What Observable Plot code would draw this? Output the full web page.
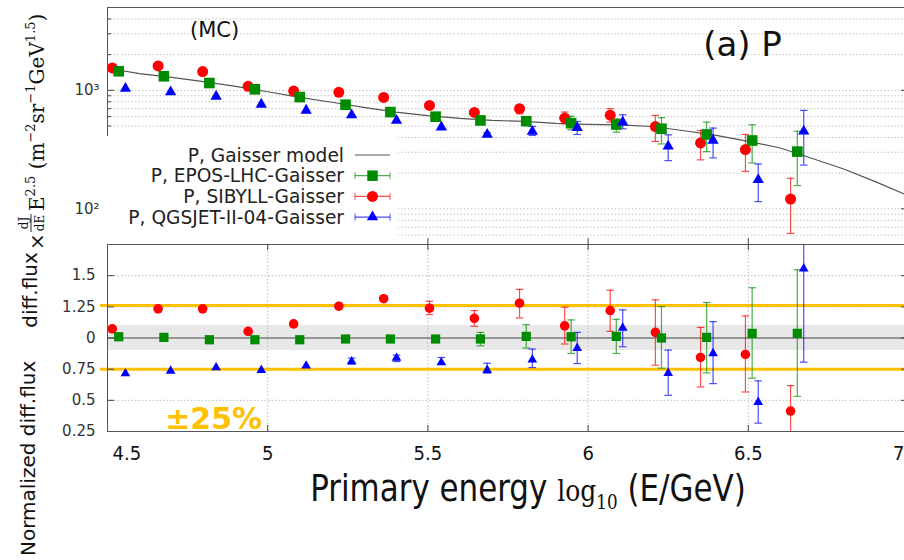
<!DOCTYPE html>
<html><head><meta charset="utf-8">
<script src="https://cdn.jsdelivr.net/npm/d3@7"></script>
<script src="https://cdn.jsdelivr.net/npm/@observablehq/plot@0.6"></script>
<style>
html,body{margin:0;padding:0;background:#fff;overflow:hidden;}
#wrap{position:relative;width:904px;height:560px;overflow:hidden;background:#fff;}
#wrap > *{position:absolute;left:0;}
[aria-label="x-axis tick label"] text{font-stretch:condensed;}
</style></head><body><div id="wrap"></div>
<script>
// ---------------- data ----------------
const xTicks = [4.5, 5, 5.5, 6, 6.5, 7];
const xTickLabels = ["4.5", "5", "5.5", "6", "6.5", "7"];
const xGrid = [5, 5.5, 6, 6.5];
const topMajor = [100, 1000];
const topMajorLabels = ["10²", "10³"];
const topMinor = [60, 70, 80, 90, 200, 300, 400, 500, 600, 700, 800, 900, 2000, 3000, 4000];
const botTicks = [1.5, 1.25, 1, 0.75, 0.5, 0.25];
const botTickLabels = ["1.5", "1.25", "0", "0.75", "0.5", "0.25"];
const botGrid = [1.5, 1.25, 0.75, 0.5];
const band = [0.9, 1.1];
const limits = [1.26, 0.75];

const legendLabels = ["P, Gaisser model", "P, EPOS-LHC-Gaisser", "P, SIBYLL-Gaisser", "P, QGSJET-II-04-Gaisser"];

const modelX = [4.5,4.6,4.7,4.8,4.9,5.0,5.1,5.2,5.3,5.4,5.5,5.6,5.7,5.8,5.9,6.0,6.1,6.2,6.3,6.4,6.5,6.6,6.7,6.8,6.9,7.0];
const modelY = [1536,1385,1286,1185,1079,973,872,793,718,655,612,580,558,546,527,517,511,495,456,416,371,326,266,216,168,129];

const xEPOS = [4.535,4.676,4.818,4.960,5.100,5.243,5.383,5.524,5.664,5.807,5.947,6.088,6.229,6.370,6.512,6.653];
const yEPOS = [1449,1314,1153,1020,877,756,655,599,557,549,528,515,474,424,377,304];
const loEPOS = [null,null,null,null,null,null,null,null,null,null,464,443,353,304,244,157];
const hiEPOS = [null,null,null,null,null,null,null,null,null,null,603,575,587,539,512,452];

const xSIB = [4.515,4.658,4.797,4.939,5.081,5.222,5.362,5.505,5.645,5.786,5.927,6.069,6.210,6.351,6.491,6.632];
const ySIB = [1545,1607,1439,1081,986,962,872,746,651,700,582,617,495,360,316,121];
const loSIB = [null,null,null,null,null,null,null,null,null,634,522,539,370,259,207,62];
const hiSIB = [null,null,null,null,null,null,null,null,null,746,655,700,614,458,424,181];

const xQGS = [4.556,4.697,4.839,4.980,5.120,5.262,5.402,5.542,5.685,5.826,5.966,6.108,6.250,6.390,6.531,6.673];
const yQGS = [1034,967,889,761,677,618,557,489,424,449,483,539,337,377,176,452];
const loQGS = [null,null,null,null,null,null,null,null,410,416,424,474,255,269,115,234];
const hiQGS = [null,null,null,null,null,null,null,null,440,495,546,622,421,480,239,677];

const rEPOS = [1.010,1.005,0.986,0.986,0.986,0.992,0.992,0.992,0.992,1.013,1.010,1.013,1.000,1.005,1.037,1.037];
const rloEPOS = [null,null,null,null,null,null,null,null,0.938,0.919,0.876,0.876,0.758,0.720,0.677,0.532];
const rhiEPOS = [null,null,null,null,null,null,null,null,1.045,1.107,1.145,1.150,1.252,1.285,1.403,1.548];

const rSIB = [1.073,1.234,1.234,1.053,1.113,1.255,1.315,1.239,1.158,1.279,1.097,1.220,1.045,0.844,0.868,0.414];
const rloSIB = [null,null,null,null,null,null,null,1.188,1.094,1.161,0.952,1.053,0.782,0.607,0.567,0.20];
const rhiSIB = [null,null,null,null,null,null,null,1.295,1.220,1.390,1.247,1.384,1.306,1.085,1.177,0.618];

const rQGS = [0.715,0.736,0.763,0.742,0.777,0.811,0.839,0.803,0.742,0.825,0.919,1.081,0.718,0.876,0.486,1.556];
const rloQGS = [null,null,null,null,null,0.790,0.811,0.790,0.718,0.763,0.795,0.930,0.540,0.634,0.317,0.806];
const rhiQGS = [null,null,null,null,null,0.839,0.863,0.844,0.798,0.911,1.045,1.226,0.903,1.131,0.656,1.90];

const topNotes = ["(MC)", "(a) P"];
const topNotesX = [4.834, 6.482];
const topNotesY = [3200, 2390];
const topNotesSize = [21, 34];
const botNoteText = ["±25%"];
const botNoteX = [4.68];
const botNoteY = [0.27];

// ---------------- helpers ----------------
const GREEN = "#008c00", RED = "#ff0000", BLUE = "#0000ff";
const SANS = "'DejaVu Sans', Verdana, sans-serif";
const COND = "'DejaVu Sans Condensed', 'Liberation Sans Narrow', 'DejaVu Sans', sans-serif";
const SERIF = "'DejaVu Serif', serif";
const W = 908, ML = 107;
const TOPH = 237, BOTH = 187;

const rows = (xs, ys, lo, hi) => xs.map((x, i) => ({x, y: ys[i], lo: lo[i], hi: hi[i]}));
const capSym = {draw(ctx, size) { const r = Math.sqrt(size / Math.PI); ctx.moveTo(-r, 0); ctx.lineTo(r, 0); }};

function errMarks(data, color) {
  const e = data.filter(d => d.lo != null);
  return [
    Plot.ruleX(e, {x: "x", y1: "lo", y2: "hi", stroke: color, strokeOpacity: 0.7, strokeWidth: 1.2, clip: true}),
    Plot.dot(e, {x: "x", y: "lo", symbol: capSym, r: 3.8, stroke: color, strokeOpacity: 0.7, strokeWidth: 1.2, clip: true}),
    Plot.dot(e, {x: "x", y: "hi", symbol: capSym, r: 3.8, stroke: color, strokeOpacity: 0.7, strokeWidth: 1.2, clip: true})
  ];
}

const tE = rows(xEPOS, yEPOS, loEPOS, hiEPOS);
const tS = rows(xSIB, ySIB, loSIB, hiSIB);
const tQ = rows(xQGS, yQGS, loQGS, hiQGS);
const bE = rows(xEPOS, rEPOS, rloEPOS, rhiEPOS);
const bS = rows(xSIB, rSIB, rloSIB, rhiSIB);
const bQ = rows(xQGS, rQGS, rloQGS, rhiQGS);
const model = modelX.map((x, i) => ({x, y: modelY[i]}));
const notes = topNotes.map((t, i) => ({t, x: topNotesX[i], y: topNotesY[i], s: topNotesSize[i]}));

const wrap = document.getElementById("wrap");
const xLab = {tickSize: 0, tickPadding: 14, fontSize: 20, fontFamily: COND, fill: "#111", label: null};

// ---------------- bottom panel ----------------
const botPlot = Plot.plot({
  width: W, height: 317, marginTop: 1, marginBottom: 129, marginLeft: ML, marginRight: 0,
  x: {domain: [4.5, 7], axis: null},
  y: {domain: [0.25, 1.75], axis: null},
  style: {background: "transparent", overflow: "visible"},
  marks: [
    Plot.rect([band], {y1: d => d[0], y2: d => d[1], fill: "#e8e8e8"}),
    Plot.ruleY(botGrid, {stroke: "#bdbdbd", strokeDasharray: "1.5,2"}),
    Plot.ruleX(xGrid, {stroke: "#bdbdbd", strokeDasharray: "1.5,2"}),
    Plot.ruleY([1], {stroke: "#444", strokeWidth: 1.2}),
    Plot.ruleY(limits, {stroke: "#FFC000", strokeWidth: 3, insetLeft: -7}),
    Plot.tickY(botTicks.slice(0, 5), {stroke: "#444", insetRight: W - ML - 7}),
    Plot.tickY(botTicks.slice(0, 5), {stroke: "#444", insetLeft: W - ML - 7}),
    Plot.tickX(xGrid, {stroke: "#444", insetTop: BOTH - 6}),
    Plot.tickX(xGrid, {stroke: "#444", insetBottom: BOTH - 6}),
    ...errMarks(bS, RED), ...errMarks(bE, GREEN), ...errMarks(bQ, BLUE),
    Plot.dot(bS, {x: "x", y: "y", symbol: "circle", r: 4.8, fill: RED, clip: true}),
    Plot.dot(bE, {x: "x", y: "y", symbol: "square", r: 5.2, fill: GREEN, clip: true}),
    Plot.dot(bQ, {x: "x", y: "y", symbol: "triangle", r: 3.6, fill: BLUE, clip: true}),
    Plot.text(botNoteText, {x: () => botNoteX[0], y: () => botNoteY[0], text: d => d, textAnchor: "start", lineAnchor: "bottom", fontSize: 30, fontWeight: "bold", fontFamily: SANS, fill: "#FFC000"}),
    Plot.axisY({ticks: botTicks, tickFormat: d => botTickLabels[botTicks.indexOf(d)], tickSize: 0, tickPadding: 12, fontSize: 15, fontFamily: SANS, fill: "#333", label: null}),
    Plot.axisX({...xLab, ticks: xTicks.slice(1, 5), tickFormat: d => xTickLabels[xTicks.indexOf(d)]}),
    Plot.axisX({...xLab, ticks: [xTicks[0]], tickFormat: d => xTickLabels[0], textAnchor: "start", dx: 5}),
    Plot.axisX({...xLab, ticks: [xTicks[5]], tickFormat: d => xTickLabels[5], textAnchor: "end", dx: -4}),
    Plot.frame({stroke: "#555"})
  ]
});
botPlot.style.top = "243px";
botPlot.style.maxWidth = "none";
wrap.appendChild(botPlot);

// ---------------- top panel ----------------
const topPlot = Plot.plot({
  width: W, height: 245, marginTop: 7, marginBottom: 1, marginLeft: ML, marginRight: 0,
  x: {domain: [4.5, 7], axis: null},
  y: {type: "log", domain: [50, 5000], axis: null},
  style: {background: "transparent", overflow: "visible"},
  marks: [
    Plot.ruleY([...topMinor, ...topMajor], {stroke: "#c4c4c4", strokeDasharray: "1.5,2"}),
    Plot.tickY(topMajor, {stroke: "#444", insetRight: W - ML - 7}),
    Plot.tickY(topMinor, {stroke: "#444", insetRight: W - ML - 4}),
    Plot.tickY(topMajor, {stroke: "#444", insetLeft: W - ML - 7}),
    Plot.tickY(topMinor, {stroke: "#444", insetLeft: W - ML - 4}),
    Plot.tickX(xGrid, {stroke: "#444", insetTop: TOPH - 6}),
    Plot.line(model, {x: "x", y: "y", stroke: "#555", strokeWidth: 1.2, clip: true}),
    ...errMarks(tS, RED), ...errMarks(tE, GREEN), ...errMarks(tQ, BLUE),
    Plot.dot(tS, {x: "x", y: "y", symbol: "circle", r: 5.5, fill: RED}),
    Plot.dot(tE, {x: "x", y: "y", symbol: "square", r: 6.0, fill: GREEN}),
    Plot.dot(tQ, {x: "x", y: "y", symbol: "triangle", r: 4.2, fill: BLUE}),
    Plot.text(notes, {x: "x", y: "y", text: "t", fontSize: "s", fontFamily: SANS, fill: "#111"}),
    Plot.axisY({ticks: topMajor, tickFormat: d => topMajorLabels[topMajor.indexOf(d)], tickSize: 0, tickPadding: 8, fontSize: 15, fontFamily: SANS, fill: "#333", label: null}),
    Plot.frame({stroke: "#555"})
  ]
});
topPlot.style.top = "0px";
topPlot.style.maxWidth = "none";
wrap.appendChild(topPlot);

// ---------------- legend ----------------
const legColors = ["#555", GREEN, RED, BLUE];
const legSymbols = [null, d3.symbolSquare, d3.symbolCircle, d3.symbolTriangle];
const legSizes = [0, 110, 95, 55];
const leg = d3.select(wrap).append("svg")
  .attr("width", 291).attr("height", 108)
  .style("top", "136px").style("left", "107px").style("background", "#fff");
legendLabels.forEach((lab, i) => {
  const y = 19 + i * 20.7;
  leg.append("text").attr("x", 237).attr("y", y).attr("dy", "0.35em")
    .attr("text-anchor", "end").attr("font-family", SANS).attr("font-size", 18.6).attr("fill", "#222").text(lab);
  if (i === 0) {
    leg.append("line").attr("x1", 248).attr("x2", 283).attr("y1", y).attr("y2", y).attr("stroke", "#555").attr("stroke-width", 1.2);
  } else {
    const c = legColors[i];
    leg.append("line").attr("x1", 248).attr("x2", 283).attr("y1", y).attr("y2", y).attr("stroke", c).attr("stroke-opacity", 0.7).attr("stroke-width", 1.2);
    leg.append("line").attr("x1", 248).attr("x2", 248).attr("y1", y - 3.5).attr("y2", y + 3.5).attr("stroke", c).attr("stroke-opacity", 0.7);
    leg.append("line").attr("x1", 283).attr("x2", 283).attr("y1", y - 3.5).attr("y2", y + 3.5).attr("stroke", c).attr("stroke-opacity", 0.7);
    leg.append("path").attr("d", d3.symbol(legSymbols[i], legSizes[i])()).attr("transform", `translate(265.5,${y})`).attr("fill", c);
  }
});

// ---------------- axis titles ----------------
const ov = d3.select(wrap).append("svg").attr("width", 904).attr("height", 560).style("top", "0px").style("pointer-events", "none");
// x title
const xt = ov.append("text").attr("transform", "translate(528,501) scale(0.93,1)").attr("text-anchor", "middle").attr("fill", "#111").attr("font-size", 37).attr("font-family", COND).style("font-stretch", "condensed");
xt.append("tspan").text("Primary energy ");
xt.append("tspan").attr("font-family", SERIF).attr("font-size", 30).text("log");
xt.append("tspan").attr("font-family", SERIF).attr("font-size", 20).attr("dy", 8).text("10");
xt.append("tspan").attr("dy", -8).text(" (E/GeV)");

// top y title (serif)
const g = ov.append("g").attr("transform", "translate(44,250) rotate(-90)").attr("fill", "#111").attr("font-family", SERIF);
g.append("text").attr("x", 0).attr("y", 0).attr("font-size", 20).text("×");
g.append("text").attr("x", 27).attr("y", -16).attr("text-anchor", "middle").attr("font-size", 12).text("dJ");
g.append("line").attr("x1", 18).attr("x2", 36).attr("y1", -13).attr("y2", -13).attr("stroke", "#111").attr("stroke-width", 0.9);
g.append("text").attr("x", 27).attr("y", 0).attr("text-anchor", "middle").attr("font-size", 12).text("dE");
const yt = g.append("text").attr("x", 39).attr("y", 0).attr("font-size", 20);
yt.append("tspan").text("E");
yt.append("tspan").attr("dy", -9).attr("font-size", 13).text("2.5");
yt.append("tspan").attr("dy", 9).text(" (m");
yt.append("tspan").attr("dy", -9).attr("font-size", 13).text("−2");
yt.append("tspan").attr("dy", 9).text("sr");
yt.append("tspan").attr("dy", -9).attr("font-size", 13).text("−1");
yt.append("tspan").attr("dy", 9).text("GeV");
yt.append("tspan").attr("dy", -9).attr("font-size", 13).text("1.5");
yt.append("tspan").attr("dy", 9).text(")");

// bottom y titles
ov.append("text").attr("transform", "translate(37,290) rotate(-90)").attr("text-anchor", "middle")
  .attr("font-family", SANS).attr("font-size", 20).attr("fill", "#111").text("diff.flux");
ov.append("text").attr("transform", "translate(35,556) rotate(-90)").attr("text-anchor", "start")
  .attr("font-family", SANS).attr("font-size", 20).attr("fill", "#111").text("Normalized diff.flux");
</script></body></html>
